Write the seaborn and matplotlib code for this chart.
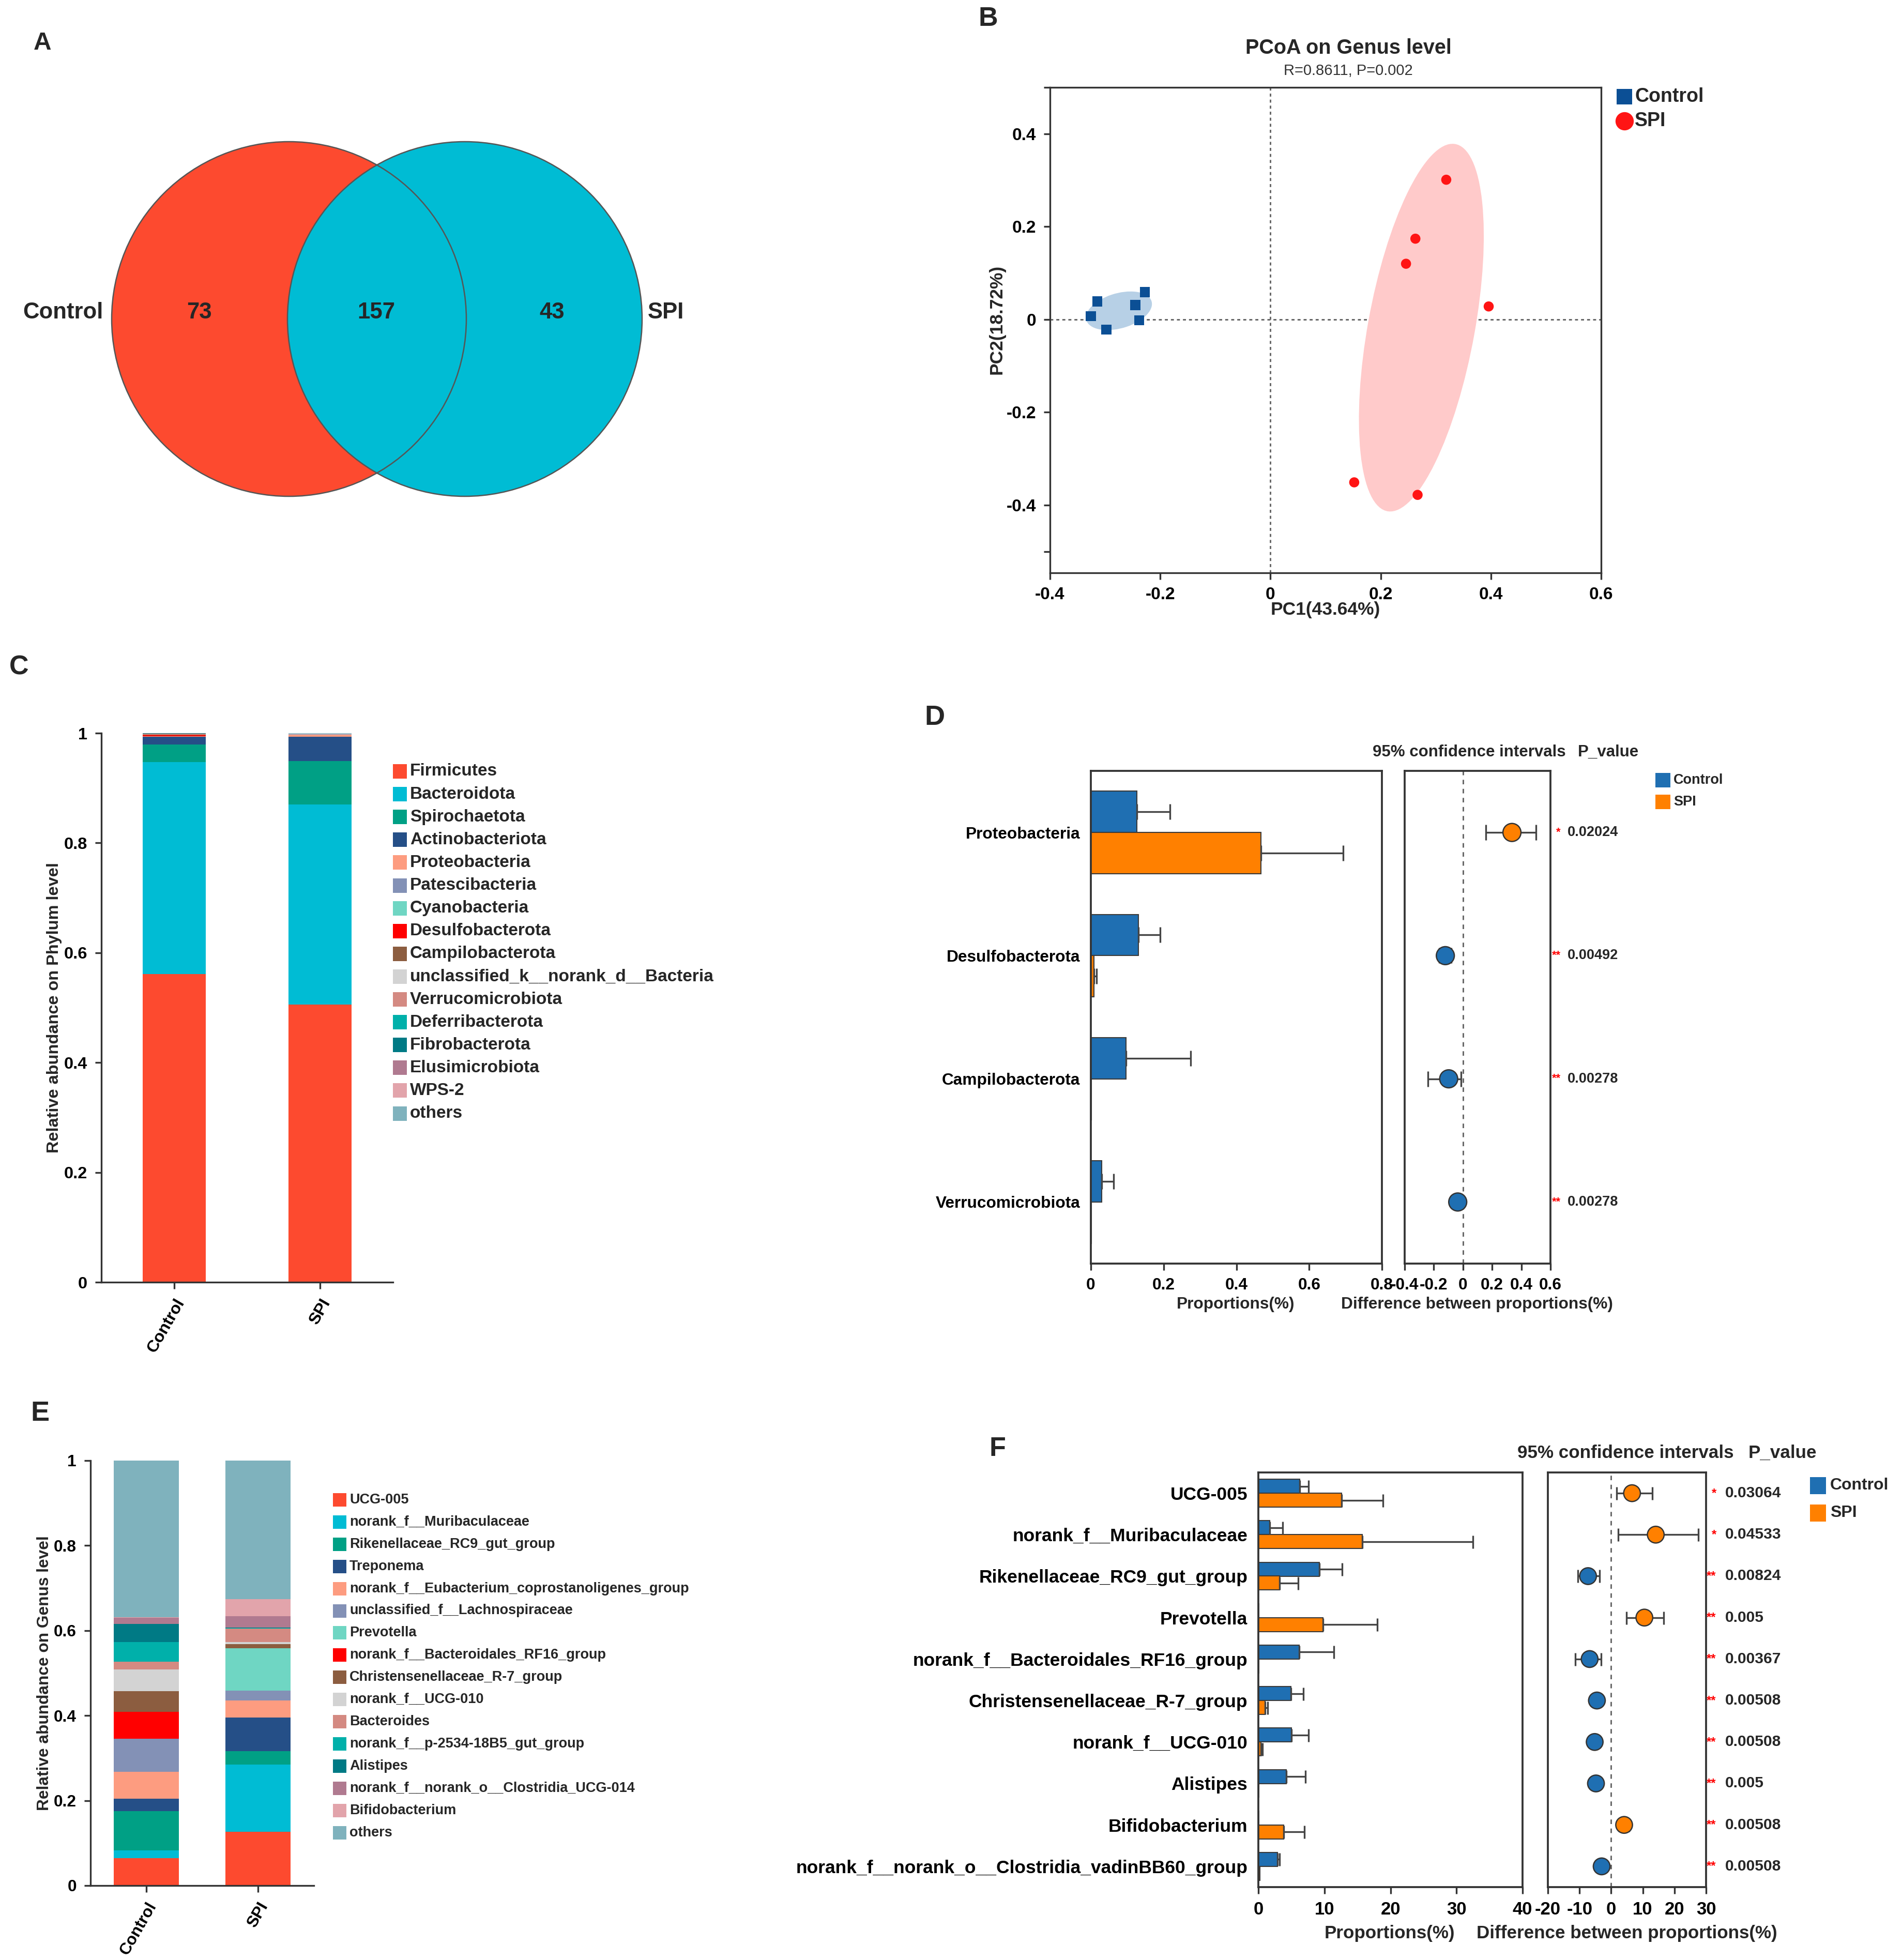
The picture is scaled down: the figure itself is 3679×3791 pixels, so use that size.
import numpy as np
import pandas as pd
import matplotlib
matplotlib.use("Agg")
import matplotlib.pyplot as plt
import seaborn as sns
from matplotlib.patches import Circle, Ellipse, Rectangle
from matplotlib.ticker import FuncFormatter

# ------------------------------------------------------------------ data
venn_sets = ["Control", "SPI"]
venn_counts = [73, 157, 43]          # Control only, shared, SPI only

pcoa_title = "PCoA on Genus level"
pcoa_stats = "R=0.8611, P=0.002"
pcoa_xlabel = "PC1(43.64%)"
pcoa_ylabel = "PC2(18.72%)"
ctrl_pc1 = [-0.326, -0.314, -0.298, -0.245, -0.238, -0.228]
ctrl_pc2 = [0.007, 0.039, -0.022, 0.031, -0.002, 0.059]
spi_pc1 = [0.319, 0.263, 0.246, 0.396, 0.152, 0.267]
spi_pc2 = [0.301, 0.174, 0.120, 0.028, -0.351, -0.378]

groups = ["Control", "SPI"]

phylum_taxa = ["Firmicutes", "Bacteroidota", "Spirochaetota", "Actinobacteriota",
               "Proteobacteria", "Patescibacteria", "Cyanobacteria", "Desulfobacterota",
               "Campilobacterota", "unclassified_k__norank_d__Bacteria", "Verrucomicrobiota",
               "Deferribacterota", "Fibrobacterota", "Elusimicrobiota", "WPS-2", "others"]
phylum_control = [0.561, 0.386, 0.032, 0.014, 0.0013, 0.0003, 0.0002, 0.0012,
                  0.0010, 0.0004, 0.0018, 0.0003, 0.0002, 0.0002, 0.0001, 0.0010]
phylum_spi = [0.506, 0.364, 0.079, 0.044, 0.0045, 0.0005, 0.0003, 0.0001,
              0.0, 0.0003, 0.0, 0.0002, 0.0001, 0.0003, 0.0002, 0.0005]

genus_taxa = ["UCG-005", "norank_f__Muribaculaceae", "Rikenellaceae_RC9_gut_group",
              "Treponema", "norank_f__Eubacterium_coprostanoligenes_group",
              "unclassified_f__Lachnospiraceae", "Prevotella",
              "norank_f__Bacteroidales_RF16_group", "Christensenellaceae_R-7_group",
              "norank_f__UCG-010", "Bacteroides", "norank_f__p-2534-18B5_gut_group",
              "Alistipes", "norank_f__norank_o__Clostridia_UCG-014", "Bifidobacterium",
              "others"]
genus_control = [0.064, 0.019, 0.092, 0.029, 0.064, 0.077, 0.001, 0.063,
                 0.048, 0.051, 0.019, 0.046, 0.042, 0.015, 0.001, 0.369]
genus_spi = [0.127, 0.158, 0.031, 0.079, 0.040, 0.024, 0.099, 0.001,
             0.009, 0.005, 0.032, 0.001, 0.001, 0.027, 0.040, 0.326]

stack_colors = ["#fd4a2f", "#00bcd4", "#00a085", "#254f87", "#fd9c80", "#8391b6",
                "#6fd6c3", "#ff0000", "#8c5d40", "#d3d3d3", "#d48a82", "#00b0aa",
                "#007a85", "#b07a90", "#e2a4ab", "#7fb2bd"]

d_taxa = ["Proteobacteria", "Desulfobacterota", "Campilobacterota", "Verrucomicrobiota"]
d_control = [0.126, 0.131, 0.097, 0.030]
d_control_err = [0.091, 0.059, 0.177, 0.033]
d_spi = [0.468, 0.009, 0.002, 0.001]
d_spi_err = [0.226, 0.007, 0.0, 0.0]
d_diff = [0.336, -0.121, -0.098, -0.036]
d_ci_low = [0.157, -0.161, -0.242, -0.050]
d_ci_high = [0.501, -0.080, -0.013, -0.022]
d_pvalue = ["0.02024", "0.00492", "0.00278", "0.00278"]
d_stars = ["*", "**", "**", "**"]

f_taxa = ["UCG-005", "norank_f__Muribaculaceae", "Rikenellaceae_RC9_gut_group",
          "Prevotella", "norank_f__Bacteroidales_RF16_group",
          "Christensenellaceae_R-7_group", "norank_f__UCG-010", "Alistipes",
          "Bifidobacterium", "norank_f__norank_o__Clostridia_vadinBB60_group"]
f_control = [6.3, 1.7, 9.2, 0.05, 6.2, 4.9, 5.0, 4.2, 0.05, 2.9]
f_control_err = [1.3, 2.0, 3.5, 0.0, 5.2, 1.9, 2.6, 2.9, 0.0, 0.3]
f_spi = [12.6, 15.7, 3.2, 9.8, 0.05, 1.0, 0.4, 0.1, 3.8, 0.2]
f_spi_err = [6.3, 16.8, 2.8, 8.2, 0.0, 0.4, 0.2, 0.0, 3.2, 0.0]
f_diff = [6.6, 14.1, -7.3, 10.5, -6.8, -4.5, -5.2, -4.8, 4.1, -3.0]
f_ci_low = [1.8, 2.3, -10.5, 4.8, -11.4, -5.5, -6.4, -6.3, 2.6, -3.3]
f_ci_high = [13.0, 27.5, -3.6, 16.6, -3.2, -3.5, -4.0, -3.3, 5.6, -2.7]
f_pvalue = ["0.03064", "0.04533", "0.00824", "0.005", "0.00367", "0.00508",
            "0.00508", "0.005", "0.00508", "0.00508"]
f_stars = ["*", "*", "**", "**", "**", "**", "**", "**", "**", "**"]

# ------------------------------------------------------------------ style
sns.set_style("ticks")
plt.rcParams["font.family"] = ["Liberation Sans", "DejaVu Sans"]
plt.rcParams["font.weight"] = "bold"
plt.rcParams["axes.labelweight"] = "bold"
plt.rcParams["axes.edgecolor"] = "#333333"
plt.rcParams["xtick.color"] = "#333333"
plt.rcParams["ytick.color"] = "#333333"
plt.rcParams["xtick.labelcolor"] = "black"
plt.rcParams["ytick.labelcolor"] = "black"

W, H = 3679, 3791
DPI = 300
fig = plt.figure(figsize=(W / DPI, H / DPI), dpi=DPI, facecolor="white")


def fr(x0, y0, x1, y1):
    return [x0 / W, 1 - y1 / H, (x1 - x0) / W, (y1 - y0) / H]


gfmt = FuncFormatter(lambda v, p: f"{v:g}")
BLUE = "#1f6fb2"
ORANGE = "#ff8000"

# overlay in figure pixel coordinates (texts, legends, venn)
ov = fig.add_axes([0, 0, 1, 1], zorder=10)
ov.set_xlim(0, W)
ov.set_ylim(H, 0)
ov.axis("off")
ov.patch.set_alpha(0)

# panel letters
for letter, (x, y, fs) in {"A": (82, 84, 11.5), "B": (1911, 36, 12.5), "C": (37, 1291, 12.5),
                           "D": (1808, 1388, 13), "E": (77, 2734, 13), "F": (1929, 2803, 12.5)}.items():
    ov.text(x, y, letter, fontsize=fs, fontweight="bold", ha="center", va="center")

# ------------------------------------------------------------------ A: Venn
c_left = Circle((559, 617), 343, facecolor="#fd4a2f", edgecolor="none")
c_right = Circle((899, 617), 343, facecolor="#00bcd4", edgecolor="#555555", lw=0.6)
ov.add_patch(c_left)
ov.add_patch(c_right)
ov.add_patch(Circle((559, 617), 343, facecolor="none", edgecolor="#555555", lw=0.6))
ov.text(200, 605, venn_sets[0], fontsize=10.5, ha="right", va="center")
ov.text(1253, 605, venn_sets[1], fontsize=10.5, ha="left", va="center")
for xpos, cnt in zip([385, 728, 1068], venn_counts):
    ov.text(xpos, 605, str(cnt), fontsize=10.5, ha="center", va="center")

# ------------------------------------------------------------------ B: PCoA
axB = fig.add_axes(fr(2031, 169, 3097, 1108))
pcoa = pd.DataFrame({"PC1": ctrl_pc1 + spi_pc1, "PC2": ctrl_pc2 + spi_pc2,
                     "group": ["Control"] * len(ctrl_pc1) + ["SPI"] * len(spi_pc1)})


def conf_ellipse(ax, xs, ys, k, color):
    xs = np.asarray(xs); ys = np.asarray(ys)
    cov = np.cov(xs, ys)
    vals, vecs = np.linalg.eigh(cov)
    ang = np.degrees(np.arctan2(vecs[1, 1], vecs[0, 1]))
    e = Ellipse((xs.mean(), ys.mean()), 2 * k * np.sqrt(vals[1]), 2 * k * np.sqrt(vals[0]),
                angle=ang, facecolor=color, edgecolor="none", zorder=1)
    ax.add_patch(e)


for g, col in [("Control", "#b7d0e6"), ("SPI", "#ffcaca")]:
    sub = pcoa[pcoa.group == g]
    conf_ellipse(axB, sub.PC1, sub.PC2, 1.4, col)
axB.axvline(0, color="#666666", ls=(0, (2, 2)), lw=0.7, zorder=0)
axB.axhline(0, color="#666666", ls=(0, (2, 2)), lw=0.7, zorder=0)
sns.scatterplot(data=pcoa, x="PC1", y="PC2", hue="group", style="group",
                markers={"Control": "s", "SPI": "o"},
                palette={"Control": "#0b4f95", "SPI": "#ff1414"},
                s=22, linewidth=0, legend=False, ax=axB, zorder=3)
axB.set_xlim(-0.4, 0.6)
axB.set_ylim(-0.546, 0.5)
axB.set_xticks([-0.4, -0.2, 0, 0.2, 0.4, 0.6])
axB.set_yticks([-0.4, -0.2, 0, 0.2, 0.4])
axB.set_yticks([-0.5, 0.5], minor=True)
axB.xaxis.set_major_formatter(gfmt)
axB.yaxis.set_major_formatter(gfmt)
axB.tick_params(labelsize=8, length=3, width=0.8, direction="out")
axB.tick_params(which="minor", length=3, width=0.8)
for lab in axB.get_xticklabels() + axB.get_yticklabels():
    lab.set_fontweight("bold")
for sp in axB.spines.values():
    sp.set_linewidth(0.8)
axB.set_xlabel("")
axB.set_ylabel("")
ov.text(2564, 1180, pcoa_xlabel, fontsize=8.5, ha="center", va="center")
ov.text(1928, 618, pcoa_ylabel, fontsize=8.5, ha="center", va="center", rotation=90)
ov.text(2608, 93, pcoa_title, fontsize=9.5, ha="center", va="center")
ov.text(2608, 137, pcoa_stats, fontsize=7, ha="center", va="center",
        fontweight="normal", color="#333333")
ov.scatter([3142], [187], marker="s", s=50, color="#0b4f95", linewidth=0)
ov.scatter([3142], [234], marker="o", s=72, color="#ff1414", linewidth=0)
ov.text(3162, 187, "Control", fontsize=9, ha="left", va="center")
ov.text(3162, 234, "SPI", fontsize=9, ha="left", va="center")


# ------------------------------------------------------------------ C / E stacked
def stacked(ax, taxa, ctrl, spi, shrink, tick_fs, ylabel, ylab_xy, leg_x, leg_y0, leg_dy,
            leg_w, leg_h, leg_fs):
    n = len(taxa)
    df = pd.DataFrame({"pos": [0] * n + [1] * n, "taxon": taxa + taxa, "value": ctrl + spi})
    sns.histplot(data=df, x="pos", weights="value", hue="taxon", hue_order=taxa[::-1],
                 multiple="stack", discrete=True, shrink=shrink,
                 palette=dict(zip(taxa, stack_colors)), alpha=1, linewidth=0,
                 legend=False, ax=ax)
    ax.set_xlim(-0.5, 1.5)
    ax.set_ylim(0, 1)
    ax.set_yticks([0, 0.2, 0.4, 0.6, 0.8, 1.0])
    ax.yaxis.set_major_formatter(gfmt)
    ax.set_xticks([0, 1])
    ax.set_xticklabels(groups, rotation=60, ha="right", va="top", rotation_mode="anchor")
    ax.tick_params(labelsize=tick_fs, length=3, width=0.8)
    for lab in ax.get_xticklabels() + ax.get_yticklabels():
        lab.set_fontweight("bold")
    sns.despine(ax=ax)
    for sp in ax.spines.values():
        sp.set_linewidth(0.8)
    ax.set_xlabel("")
    ax.set_ylabel("")
    ov.text(ylab_xy[0], ylab_xy[1], ylabel, fontsize=tick_fs, rotation=90,
            ha="center", va="center")
    for i, (t, c) in enumerate(zip(taxa, stack_colors)):
        yc = leg_y0 + i * leg_dy
        ov.add_patch(Rectangle((leg_x, yc - leg_h / 2), leg_w, leg_h, facecolor=c,
                               edgecolor="none"))
        ov.text(leg_x + leg_w + 6, yc, t, fontsize=leg_fs, ha="left", va="center")


axC = fig.add_axes(fr(196, 1418, 760, 2480))
stacked(axC, phylum_taxa, phylum_control, phylum_spi, 0.433, 7.8,
        "Relative abundance on Phylum level", (105, 1949), 760, 1492, 44.1, 27, 28, 8)

axE = fig.add_axes(fr(175, 2825, 607, 3647))
stacked(axE, genus_taxa, genus_control, genus_spi, 0.58, 7.6,
        "Relative abundance on Genus level", (86, 3236), 644, 2901, 42.9, 26, 26, 6.5)


# ------------------------------------------------------------------ D / F extended bars
def ext_bar(axL, axR, taxa, c, ce, s, se, diff, lo, hi, pv, stars,
            xl, xtl, xr, xtr, cat_fs, tick_fs, p_fs, ms, cap, star_x, p_x):
    n = len(taxa)
    df = pd.DataFrame({"taxon": taxa * 2, "group": ["Control"] * n + ["SPI"] * n,
                       "value": c + s})
    sns.barplot(data=df, x="value", y="taxon", hue="group", order=taxa,
                hue_order=groups, palette={"Control": BLUE, "SPI": ORANGE},
                orient="h", width=0.67, errorbar=None, edgecolor="#3a3a3a",
                linewidth=0.5, saturation=1, legend=False, ax=axL)
    for cont, errs in zip(axL.containers, [ce, se]):
        for bar, e in zip(cont, errs):
            if e <= 0:
                continue
            w = bar.get_width()
            yc = bar.get_y() + bar.get_height() / 2
            axL.errorbar(w, yc, xerr=[[0], [e]], fmt="none", ecolor="#444444",
                         elinewidth=0.8, capsize=cap, capthick=0.8)
    axL.set_xlim(*xl)
    axL.set_xticks(xtl)
    axL.xaxis.set_major_formatter(gfmt)
    axL.set_ylim(n - 0.5, -0.5)
    axL.set_xlabel("")
    axL.set_ylabel("")
    axL.tick_params(axis="y", length=0, labelsize=cat_fs, pad=5)
    axL.tick_params(axis="x", labelsize=tick_fs, length=3, width=0.8)
    for lab in axL.get_xticklabels() + axL.get_yticklabels():
        lab.set_fontweight("bold")

    y = np.arange(n)
    d = np.asarray(diff)
    axR.axvline(0, color="#666666", ls=(0, (3, 3)), lw=0.7, zorder=0)
    axR.errorbar(d, y, xerr=[d - np.asarray(lo), np.asarray(hi) - d], fmt="none",
                 ecolor="#444444", elinewidth=0.8, capsize=cap, capthick=0.8, zorder=2)
    winner = ["SPI" if v > 0 else "Control" for v in d]
    sns.scatterplot(x=d, y=y, hue=winner, palette={"Control": BLUE, "SPI": ORANGE},
                    s=ms, edgecolor="#333333", linewidth=0.6, legend=False, ax=axR, zorder=3)
    axR.set_xlim(*xr)
    axR.set_xticks(xtr)
    axR.xaxis.set_major_formatter(gfmt)
    axR.set_ylim(n - 0.5, -0.5)
    axR.set_yticks([])
    axR.set_xlabel("")
    axR.set_ylabel("")
    axR.tick_params(axis="x", labelsize=tick_fs, length=3, width=0.8)
    for lab in axR.get_xticklabels():
        lab.set_fontweight("bold")
    for ax in (axL, axR):
        for sp in ax.spines.values():
            sp.set_visible(True)
            sp.set_linewidth(0.9)
    tr = axR.get_yaxis_transform()
    for yi, st, p in zip(y, stars, pv):
        axR.text(star_x, yi, st, transform=tr, color="red", fontsize=p_fs * 0.8,
                 ha="right", va="center", clip_on=False)
        axR.text(p_x, yi, p, transform=tr, fontsize=p_fs, ha="left", va="center",
                 clip_on=False)


axDL = fig.add_axes(fr(2110, 1491, 2673, 2444))
axDR = fig.add_axes(fr(2717, 1491, 2999, 2444))
ext_bar(axDL, axDR, d_taxa, d_control, d_control_err, d_spi, d_spi_err, d_diff,
        d_ci_low, d_ci_high, d_pvalue, d_stars,
        (0, 0.8), [0, 0.2, 0.4, 0.6, 0.8], (-0.4, 0.6), [-0.4, -0.2, 0, 0.2, 0.4, 0.6],
        7.6, 7.6, 6.5, 70, 3.5, 1.07, 1.117)
ov.text(2842, 1455, "95% confidence intervals", fontsize=7.5, ha="center", va="center")
ov.text(3111, 1455, "P_value", fontsize=7.5, ha="center", va="center")
ov.text(2390, 2523, "Proportions(%)", fontsize=7.6, ha="center", va="center")
ov.text(2857, 2523, "Difference between proportions(%)", fontsize=7.6, ha="center", va="center")
for yc, g, col in [(1509, "Control", BLUE), (1551, "SPI", ORANGE)]:
    ov.add_patch(Rectangle((3202, yc - 14), 29, 28, facecolor=col, edgecolor="none"))
    ov.text(3237, yc, g, fontsize=6.5, ha="left", va="center")

axFL = fig.add_axes(fr(2434, 2848, 2945, 3650))
axFR = fig.add_axes(fr(2994, 2848, 3300, 3650))
ext_bar(axFL, axFR, f_taxa, f_control, f_control_err, f_spi, f_spi_err, f_diff,
        f_ci_low, f_ci_high, f_pvalue, f_stars,
        (0, 40), [0, 10, 20, 30, 40], (-20, 30), [-20, -10, 0, 10, 20, 30],
        8.5, 8.3, 7.2, 60, 3.0, 1.065, 1.12)
ov.text(3144, 2810, "95% confidence intervals", fontsize=8.4, ha="center", va="center")
ov.text(3448, 2810, "P_value", fontsize=8.4, ha="center", va="center")
ov.text(2688, 3739, "Proportions(%)", fontsize=8.4, ha="center", va="center")
ov.text(3147, 3739, "Difference between proportions(%)", fontsize=8.4, ha="center", va="center")
for yc, g, col in [(2873, "Control", BLUE), (2926, "SPI", ORANGE)]:
    ov.add_patch(Rectangle((3501, yc - 16), 31, 33, facecolor=col, edgecolor="none"))
    ov.text(3540, yc, g, fontsize=7.7, ha="left", va="center")

fig.savefig("out.png", dpi=DPI, facecolor="white")
